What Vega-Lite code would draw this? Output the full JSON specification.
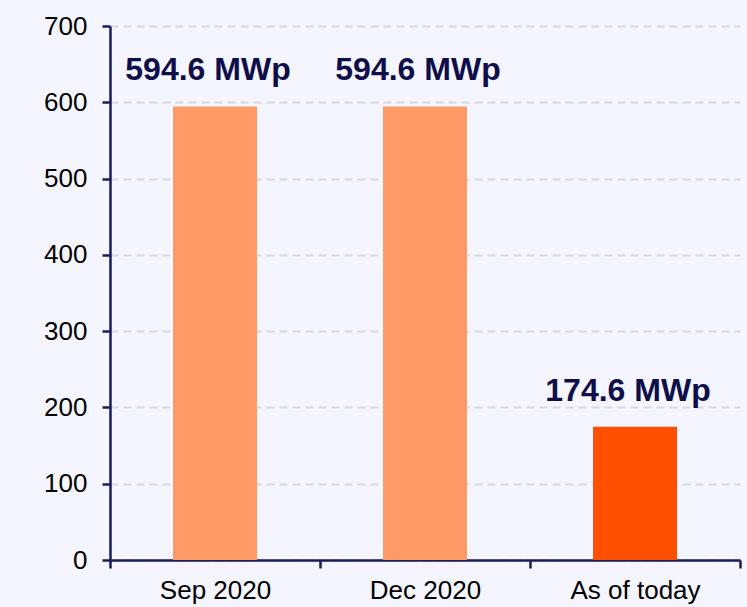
{
  "$schema": "https://vega.github.io/schema/vega-lite/v6.json",
  "autosize": "none",
  "width": 630,
  "height": 534,
  "padding": {"left": 110, "top": 26, "right": 7, "bottom": 47},
  "background": "#F4F5FE",
  "config": {
    "view": {"stroke": null},
    "font": "Liberation Sans"
  },
  "data": {
    "values": [
      {"period": "Sep 2020", "capacity": 594.6, "label": "594.6 MWp", "status": "past"},
      {"period": "Dec 2020", "capacity": 594.6, "label": "594.6 MWp", "status": "past"},
      {"period": "As of today", "capacity": 174.6, "label": "174.6 MWp", "status": "current"}
    ]
  },
  "encoding": {
    "x": {
      "field": "period",
      "type": "nominal",
      "sort": null,
      "scale": {"paddingInner": 0, "paddingOuter": 0},
      "axis": {
        "title": null,
        "labelAngle": 0,
        "labelFont": "Liberation Sans",
        "labelFontSize": 26,
        "labelColor": "#000000",
        "labelPadding": 9,
        "domainColor": "#1B1B5C",
        "domainWidth": 2.5,
        "ticks": true,
        "tickColor": "#1B1B5C",
        "tickWidth": 2.5,
        "tickSize": 8,
        "tickBand": "extent",
        "grid": false
      }
    },
    "y": {
      "field": "capacity",
      "type": "quantitative",
      "scale": {"domain": [0, 700], "nice": false},
      "axis": {
        "title": null,
        "values": [0, 100, 200, 300, 400, 500, 600, 700],
        "labelFont": "Liberation Sans",
        "labelFontSize": 26,
        "labelColor": "#000000",
        "labelPadding": 15,
        "domainColor": "#1B1B5C",
        "domainWidth": 2.5,
        "tickColor": "#1B1B5C",
        "tickWidth": 2.5,
        "tickSize": 8,
        "grid": true,
        "gridColor": "#D7D7E2",
        "gridWidth": 2,
        "gridDash": [8, 5]
      }
    }
  },
  "layer": [
    {
      "mark": {"type": "bar", "width": {"band": 0.4}},
      "encoding": {
        "color": {
          "field": "status",
          "type": "nominal",
          "scale": {"domain": ["past", "current"], "range": ["#FF9966", "#FF5000"]},
          "legend": null
        }
      }
    },
    {
      "mark": {
        "type": "text",
        "font": "Liberation Sans",
        "fontSize": 32,
        "fontWeight": "bold",
        "color": "#0E0E4A",
        "baseline": "alphabetic",
        "dy": -26,
        "dx": -7
      },
      "encoding": {
        "text": {"field": "label"}
      }
    }
  ]
}
